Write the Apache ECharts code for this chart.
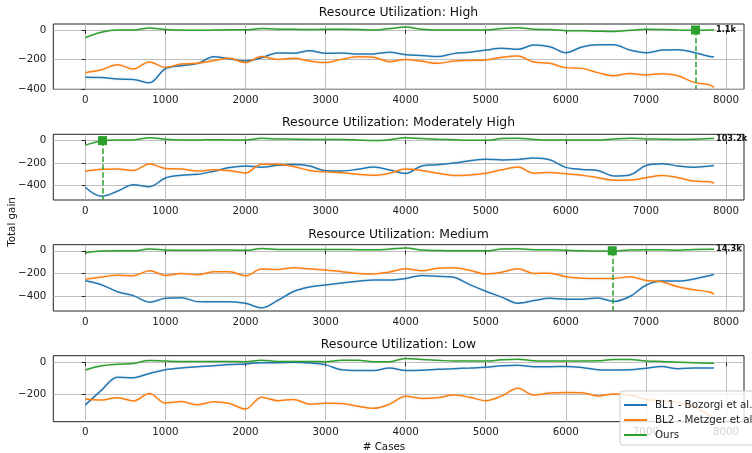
<!DOCTYPE html>
<html>
<head>
<meta charset="utf-8">
<script src="https://cdn.jsdelivr.net/npm/echarts@6/dist/echarts.min.js"></script>
<style>
  html, body { margin: 0; padding: 0; background: #fff; }
  #chart { width: 752px; height: 453px; }
</style>
</head>
<body>
<div id="chart"></div>
<script>
// x positions (number of cases)
const cases = [0, 200, 400, 600, 800, 1000, 1200, 1400, 1600, 1800,
  2000, 2200, 2400, 2600, 2800, 3000, 3200, 3400, 3600, 3800,
  4000, 4200, 4400, 4600, 4800, 5000, 5200, 5400, 5600, 5800,
  6000, 6200, 6400, 6600, 6800, 7000, 7200, 7400, 7600, 7800, 7850]

const panelTitles = ['Resource Utilization: High', 'Resource Utilization: Moderately High',
  'Resource Utilization: Medium', 'Resource Utilization: Low']
const methods = ['BL1 - Bozorgi et al.', 'BL2 - Metzger et al.', 'Ours']
const xTicks = [0, 1000, 2000, 3000, 4000, 5000, 6000, 7000, 8000]
const yTicks = [[-400, -200, 0], [-400, -200, 0], [-400, -200, 0], [-200, 0]]

// High
const highBL1 = [-320, -322, -332, -335, -358, -262, -242, -228, -182, -195,
  -210, -188, -155, -157, -140, -158, -156, -163, -162, -151,
  -168, -172, -180, -160, -151, -136, -124, -131, -102, -113,
  -154, -115, -100, -100, -136, -154, -136, -133, -152, -180, -182]
const highBL2 = [-289, -270, -235, -264, -217, -253, -230, -226, -208, -192,
  -221, -180, -199, -192, -210, -221, -199, -182, -185, -215,
  -199, -212, -226, -210, -206, -203, -185, -176, -217, -226,
  -255, -260, -289, -310, -294, -305, -296, -310, -355, -372, -389]
const highOurs = [-52, -15, 0, 0, 14, 3, 0, -2, 0, 2,
  2, 10, 6, 6, 3, 5, 5, 4, 0, 10,
  20, 5, 0, 0, 0, 0, 10, 15, 5, 3,
  -4, -5, -8, -10, -2, 5, 3, 0, -2, 0, 0]

// Moderately High
const modBL1 = [-415, -495, -450, -392, -410, -332, -308, -300, -272, -240,
  -226, -236, -219, -212, -225, -268, -270, -255, -234, -262,
  -292, -225, -215, -200, -180, -166, -172, -168, -154, -170,
  -238, -256, -265, -315, -305, -222, -205, -225, -237, -226, -222]
const modBL2 = [-273, -255, -252, -265, -207, -248, -252, -270, -260, -268,
  -287, -210, -210, -230, -265, -278, -285, -300, -308, -290,
  -252, -265, -290, -310, -305, -290, -260, -235, -290, -283,
  -295, -308, -330, -352, -350, -330, -311, -330, -360, -365, -379]
const modOurs = [-40, -4, 6, 6, 25, 12, 6, 5, 8, 6,
  6, 20, 15, 12, 10, 10, 10, 6, 0, 8,
  26, 18, 12, 8, 3, 3, 18, 22, 10, 5,
  5, 5, 5, 15, 22, 15, 13, 10, 12, 18, 18]

// Medium
const medBL1 = [-265, -300, -362, -397, -455, -420, -415, -450, -452, -450,
  -464, -505, -440, -360, -320, -302, -285, -270, -258, -259,
  -245, -218, -225, -235, -300, -358, -410, -464, -441, -420,
  -428, -428, -418, -448, -405, -305, -268, -268, -250, -218, -209]
const medBL2 = [-253, -232, -217, -220, -176, -218, -200, -213, -185, -185,
  -222, -162, -165, -150, -160, -170, -185, -200, -205, -187,
  -160, -176, -155, -150, -172, -205, -190, -158, -200, -198,
  -230, -242, -246, -245, -230, -262, -275, -318, -345, -365, -385]
const medOurs = [-18, -2, 0, 0, 15, 8, 5, 5, 6, 6,
  5, 20, 12, 12, 12, 12, 12, 10, 10, 15,
  25, 6, 2, 0, 0, 0, 15, 18, 10, 10,
  5, 0, -2, -3, 8, 10, 10, 5, 12, 14, 14]

// Low
const lowBL1 = [-267, -175, -92, -95, -68, -45, -33, -26, -20, -12,
  -8, 0, 0, 2, -2, -14, -45, -50, -50, -33,
  -50, -48, -42, -38, -34, -29, -20, -16, -26, -26,
  -24, -30, -44, -46, -45, -35, -25, -38, -34, -33, -34]
const lowBL2 = [-229, -236, -221, -242, -195, -255, -246, -266, -247, -258,
  -293, -218, -240, -232, -262, -257, -258, -275, -288, -262,
  -212, -226, -222, -205, -219, -240, -210, -162, -204, -192,
  -189, -190, -210, -198, -205, -232, -240, -252, -278, -335, -355]
const lowOurs = [-46, -20, -10, -5, 13, 10, 8, 8, 8, 7,
  6, 15, 8, 8, 8, 6, 15, 15, 6, 6,
  27, 20, 15, 10, 10, 10, 18, 22, 12, 10,
  10, 10, 12, 20, 20, 10, 8, 2, 0, -3, -4]

// best point of "Ours" per panel and final total gain label
const bestCases = [7620, 215, 6580, null]
const bestGain = [0, 0, 0, null]
const endLabels = ['1.1k', '103.2k', '14.3k', '']

const panelData = [
  [highBL1, highBL2, highOurs],
  [modBL1, modBL2, modOurs],
  [medBL1, medBL2, medOurs],
  [lowBL1, lowBL2, lowOurs]
]

// layout
const colors = ['#1f77b4', '#ff7f0e', '#2ca02c']
const font = 'DejaVu Sans'
const gridTops = [24, 134.3, 244.7, 355.7]
const gridHeights = [65.3, 65.7, 66.3, 66]
const yRanges = [[-402, 41], [-528, 56], [-533, 54], [-373, 44]]
const titleY = [13, 123, 234.5, 345]

const minus = v => String(v).replace('-', '\u2212')

const option = {
  animation: false,
  textStyle: { fontFamily: font },
  grid: gridTops.map((t, i) => ({
    left: 53.3, width: 690.7, top: t, height: gridHeights[i],
    show: true, borderColor: '#222', borderWidth: 1, backgroundColor: 'transparent'
  })),
  xAxis: gridTops.map((t, i) => ({
    type: 'value', gridIndex: i, min: -400, max: 8225,
    axisLine: { show: false },
    axisTick: { show: true, customValues: xTicks, length: 3.6, lineStyle: { color: '#222' } },
    axisLabel: { customValues: xTicks, fontSize: 10.3, color: '#222', margin: 6, formatter: v => String(v) },
    splitLine: { show: true, lineStyle: { color: '#b0b0b0', width: 0.8 } }
  })),
  yAxis: gridTops.map((t, i) => ({
    type: 'value', gridIndex: i, min: yRanges[i][0], max: yRanges[i][1],
    axisLine: { show: false },
    axisTick: { show: true, customValues: yTicks[i], length: 3.6, lineStyle: { color: '#222' } },
    axisLabel: { customValues: yTicks[i], fontSize: 10.3, color: '#222', margin: 7, formatter: minus },
    splitLine: { show: true, lineStyle: { color: '#b0b0b0', width: 0.8 } }
  })),
  legend: {
    data: methods, orient: 'vertical', left: 620, top: 391,
    itemWidth: 23, itemHeight: 10, itemGap: 5, padding: [9, 10, 5, 3],
    itemStyle: { opacity: 0 },
    backgroundColor: 'rgba(255,255,255,0.8)', borderColor: '#cccccc', borderWidth: 1, borderRadius: 3,
    textStyle: { fontSize: 10.3, color: '#222', padding: [0, 0, 0, 3] }
  },
  graphic: [
    ...panelTitles.map((t, i) => ({
      type: 'text', x: 398.5, y: titleY[i],
      style: { text: t, fontSize: 12.4, fontFamily: font, fill: '#111', align: 'center', verticalAlign: 'middle' }
    })),
    { type: 'text', x: 12, y: 222, rotation: Math.PI / 2,
      style: { text: 'Total gain', fontSize: 10.3, fontFamily: font, fill: '#111', align: 'center', verticalAlign: 'middle' } },
    { type: 'text', x: 384, y: 447,
      style: { text: '# Cases', fontSize: 10.3, fontFamily: font, fill: '#111', align: 'center', verticalAlign: 'middle' } }
  ],
  series: []
}

panelData.forEach((lines, i) => {
  lines.forEach((vals, m) => {
    const s = {
      type: 'line', name: methods[m], xAxisIndex: i, yAxisIndex: i,
      data: cases.map((c, k) => [c, vals[k]]),
      smooth: 0.35, symbol: 'none', color: colors[m],
      lineStyle: { width: 1.5, color: colors[m], shadowColor: 'rgba(0,0,0,0.12)', shadowBlur: 3 },
      z: 2 + m
    }
    if (m === 2 && endLabels[i]) {
      s.endLabel = { show: true, formatter: endLabels[i], distance: 2, fontSize: 8.2, fontWeight: 'bold', color: '#111' }
    }
    if (m === 2 && bestCases[i] != null) {
      s.markPoint = {
        symbol: 'rect', symbolSize: 9, silent: true, label: { show: false },
        itemStyle: { color: colors[2], opacity: 1 },
        data: [{ coord: [bestCases[i], bestGain[i]] }]
      }
      s.markLine = {
        symbol: ['none', 'none'], silent: true, label: { show: false },
        lineStyle: { color: colors[2], width: 1.5, type: [5.5, 2.4] },
        data: [[{ coord: [bestCases[i], bestGain[i]] }, { coord: [bestCases[i], yRanges[i][0]] }]]
      }
    }
    option.series.push(s)
  })
})

const chart = echarts.init(document.getElementById('chart'))
chart.setOption(option)
window.addEventListener('resize', () => chart.resize())
</script>
</body>
</html>
